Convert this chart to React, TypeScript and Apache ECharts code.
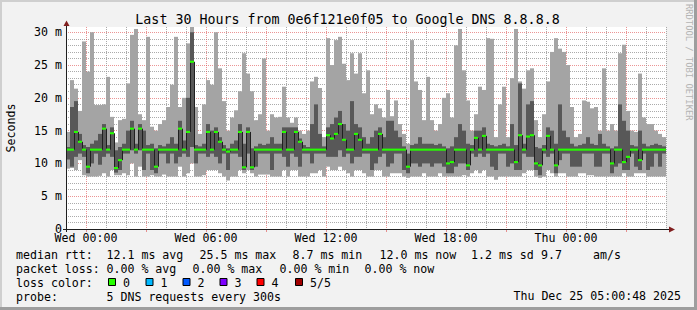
import React, { useEffect, useRef } from 'react';
import * as echarts from 'echarts';

// time axis: hours relative to Wed 00:00, one column = 12 minutes
const START_HOUR = -1;
const END_HOUR = 29;
const STEP_HOURS = 0.2;

// smoke values (ms): lowest ping, 2nd ping, median, 4th ping, highest ping
const pingMin = [
  9.2, 9.3, 9.0, 10.5, 8.2, 8.0, 8.0, 8.0, 8.1, 8.5, 8.0, 9.0, 8.2, 8.2, 8.5, 8.2, 10, 8.0, 9.5, 8,
  8, 8.2, 8, 8, 8.3, 8, 8, 8, 9.5, 8, 8.5, 10, 8, 8, 8.2, 9, 9, 9, 8.5, 8,
  7.4, 8, 8, 9, 8.5, 9, 8.5, 8, 8.3, 8.3, 8.3, 8, 8, 8, 9, 8, 9, 9, 8, 8,
  8, 8.5, 8.5, 9, 8, 9.5, 9, 9, 9.5, 9, 8.5, 8, 9, 9, 8.5, 8, 8, 9, 9, 8,
  8, 8.5, 8.5, 8.5, 8, 7.8, 8, 8, 8, 8.5, 8, 8, 8, 8.5, 8, 8, 8, 8, 8, 8.2,
  8, 8.5, 9, 8.5, 9, 8, 8, 7.5, 8, 8, 8, 8, 8, 8, 8.5, 9, 9, 8, 7.8, 8,
  9, 8.5, 8, 8.5, 8.5, 8, 8, 8, 8.5, 8.5, 8.2, 8.2, 8, 8, 8, 8, 8, 8, 8, 8.5,
  8, 8, 8.5, 8.5, 8.5, 8, 8, 8, 8, 8,
];
const pingLow = [
  10.6, 9.5, 11, 11.5, 11.0, 8.5, 10, 11.5, 9.8, 11, 11.5, 11, 8.6, 9, 11.5, 11.5, 12, 11.5, 12, 9,
  11.5, 9, 8.5, 11.5, 11.5, 10, 11.5, 10, 11, 11.5, 11, 12.5, 10, 11.5, 11.5, 11, 11.5, 11, 10, 11.5,
  9, 11.5, 11.5, 11, 9, 11.5, 9, 9.5, 11.5, 11.5, 11.5, 9, 11.5, 11.5, 11, 9.5, 11.5, 11, 9.5, 11.5,
  11.5, 10, 11.5, 11.5, 11.5, 11, 11, 11, 12, 11, 11.5, 10, 11, 11, 11.5, 11.5, 9, 10, 11, 11.5,
  9.5, 10, 11.5, 11.5, 9, 8.5, 10, 10, 9.5, 10, 10, 9.5, 10, 10, 9.5, 8.5, 8.5, 9.5, 10, 10,
  9, 11.5, 11, 11.5, 11, 11.5, 9.5, 9, 11.5, 11.5, 9.5, 10, 9, 9, 11.5, 11, 11, 9, 8.2, 11.5,
  11, 11.5, 8.5, 10.5, 11.5, 11.5, 9.5, 9.5, 9.5, 11.5, 11.5, 11.5, 9.5, 9.5, 11.5, 11.5, 8.5, 9.5, 10, 9,
  9, 11.5, 9.5, 9, 11.5, 9, 9.5, 11.5, 9.5, 11.5,
];
const pingMedian = [
  12.1, 12.1, 14.8, 13.3, 12.1, 9.5, 12.1, 12.1, 12.1, 15.3, 12.1, 14.6, 9.3, 10.5, 12.1, 12.1, 15.3, 12.1, 15.3, 12.1,
  12.1, 12.1, 9.5, 12.1, 12.1, 12.1, 12.1, 12.1, 15.3, 12.1, 14.8, 25.5, 12.1, 12.1, 12.1, 14.8, 12.1, 14.8, 13.3, 12.1,
  11.8, 12.1, 12.1, 14.8, 9.4, 14.8, 9.4, 12.1, 12.1, 12.1, 12.1, 12.1, 12.1, 12.1, 14.8, 12.1, 12.1, 14.8, 13.3, 12.1,
  12.1, 12.1, 12.1, 12.1, 12.1, 14.3, 13.8, 14.5, 16, 13.6, 12.1, 12.1, 14.5, 13.6, 12.1, 12.1, 12.1, 12.1, 14.5, 12.1,
  12.1, 12.1, 12.1, 12.1, 12.1, 9.5, 12.1, 12.1, 12.1, 12.1, 12.1, 12.1, 12.1, 12.1, 12.1, 10, 10.2, 12.1, 12.1, 12.1,
  9.7, 12.1, 13.9, 12.1, 14.2, 12.1, 12.1, 12.1, 12.1, 12.1, 12.1, 12.1, 10.2, 14.3, 12.1, 14.1, 14.3, 10, 9.7, 12.1,
  14.2, 12.1, 9.7, 12.1, 12.1, 12.1, 12.1, 12.1, 12.1, 12.1, 12.1, 12.1, 12.1, 12.1, 12.1, 12.1, 10, 12.1, 12.1, 10.2,
  11, 12.1, 12.1, 10.5, 12.1, 12.1, 12.1, 12.1, 12.1, 12.1,
];
const pingHigh = [
  12.5, 18.6, 19.5, 14.5, 12.8, 12.5, 13, 13.5, 14.5, 16, 12.8, 15.5, 12.0, 12.5, 13, 15, 16.5, 13, 16, 15,
  12.8, 13, 12.3, 12.8, 12.6, 13, 14, 13, 16.5, 13.5, 20, 30, 12.8, 12.6, 13, 16, 15, 15.5, 14, 12.8,
  12.3, 13, 13.5, 16, 13, 15.5, 12.3, 12.6, 13, 12.8, 13, 14, 13, 13, 15.5, 15.5, 15.5, 15.5, 13.8, 12.8,
  12.5, 16, 19, 14.5, 12.6, 15.5, 16, 17, 18, 16, 15, 19.5, 16, 15.5, 14, 13, 14, 15, 15.5, 14,
  16.5, 16.5, 15, 14, 12.6, 11.5, 12.8, 13, 14, 13, 13, 13, 12.8, 13, 12.6, 12.3, 12.6, 14, 16, 15,
  13, 12.8, 15, 15, 15.5, 13, 12.8, 12.6, 12.8, 13, 12.6, 16, 12.8, 22.2, 13, 19, 19.5, 12.5, 12.3, 12.8,
  15.5, 15, 13, 19, 15, 14, 13, 12.6, 12.8, 13, 14, 13, 12.8, 14.5, 13, 12.6, 12.3, 12.6, 19, 16.5,
  15, 12.8, 12.6, 15, 13, 12.6, 12.8, 13, 12.8, 12.6,
];
const pingMax = [
  14.8, 22.7, 21.4, 18, 28.6, 24, 30, 18.9, 18.9, 19, 23.2, 17.1, 13.2, 16.6, 16.8, 22.2, 29.6, 30.5, 17.5, 16.6,
  29.3, 15.6, 15, 16, 16.6, 18.6, 22, 29.3, 18.6, 20, 28.3, 31, 18.6, 14.5, 19, 22.7, 22, 30, 24.5, 19.5,
  15, 17, 18.1, 21, 26.8, 23.7, 21, 16.6, 17.5, 26, 15, 17.5, 17, 17.1, 21.7, 17, 16.2, 17, 15, 14.5,
  15, 22.5, 23.2, 21.5, 14, 29.1, 25, 28.8, 29.3, 25.2, 22.7, 26.8, 23.7, 26.8, 20.7, 24.2, 17.5, 19, 18.4, 17,
  21.2, 17.2, 19.6, 16, 14.5, 13, 28.8, 22.5, 21.2, 16.6, 23.2, 16.6, 15, 16, 20, 20.7, 17, 28, 30.5, 24.2,
  19.6, 15, 17.5, 21.7, 21.2, 29.1, 29, 14, 19, 21.7, 14, 23, 30.5, 22.5, 21.4, 24.2, 24.5, 16.6, 14, 17.5,
  22.5, 27, 29.1, 27.5, 27, 25, 18.6, 14, 14.5, 19.6, 19.4, 18.4, 18.6, 15, 24.5, 15, 16, 15, 26.8, 28.1,
  18, 15, 14.8, 23.7, 17, 16, 16, 15, 14.5, 14,
];

// axis labels
const xTickHours = [0, 6, 12, 18, 24];
const xTickLabels = ['Wed 00:00', 'Wed 06:00', 'Wed 12:00', 'Wed 18:00', 'Thu 00:00'];
const yMax = 30.8;

const titleText = 'Last 30 Hours from 0e6f121e0f05 to Google DNS 8.8.8.8';
// legend items: [text, left x]
const legendRow1: [string, number][] = [
  ['median rtt:', 16], ['12.1 ms avg', 106.5], ['25.5 ms max', 199.5], ['8.7 ms min', 292.5],
  ['12.0 ms now', 379.5], ['1.2 ms sd', 471], ['9.7', 541], ['am/s', 593],
];
const legendRow2: [string, number][] = [
  ['packet loss:', 16], ['0.00 % avg', 106.5], ['0.00 % max', 192.5], ['0.00 % min', 279.5], ['0.00 % now', 364.5],
];
const legendRow3: [string, number][] = [['loss color:', 16]];
const legendRow4: [string, number][] = [['probe:', 16], ['5 DNS requests every 300s', 106.5]];
const lossLabels = ['0', '1', '2', '3', '4', '5/5'];
const lossColors = ['#26ff00', '#00b8ff', '#0059ff', '#7e00ff', '#ff0000', '#a10000'];
const dateText = 'Thu Dec 25 05:00:48 2025';

const MONO = "'DejaVu Sans Mono', monospace";
const MINOR = 'rgba(143,143,143,0.75)';
const MAJOR = 'rgba(222,79,79,0.6)';

export default function App() {
  const ref = useRef<HTMLDivElement>(null);

  useEffect(() => {
    const chart = echarts.init(ref.current!, null, { renderer: 'svg' });

    const rows = pingMin.map((v, i) => [
      START_HOUR + i * STEP_HOURS,
      v,
      pingLow[i],
      pingMedian[i],
      pingHigh[i],
      pingMax[i],
    ]);

    const hourCats: string[] = [];
    for (let h = START_HOUR; h <= END_HOUR; h++) {
      const k = xTickHours.indexOf(h);
      hourCats.push(k >= 0 ? xTickLabels[k] : '');
    }

    const legendGraphics: any[] = [];
    [legendRow1, legendRow2, legendRow3, legendRow4].forEach((row, r) => {
      row.forEach(([t, x]) => {
        legendGraphics.push({
          type: 'text',
          x,
          y: 255 + r * 14,
          z: 100,
          style: { text: t, font: `11.6px ${MONO}`, fill: '#000', verticalAlign: 'middle' },
        });
      });
    });
    const boxX = [108, 145.5, 182.5, 219.5, 256.5, 295];
    lossColors.forEach((c, i) => {
      legendGraphics.push({
        type: 'rect',
        z: 100,
        shape: { x: boxX[i] + 0.5, y: 278.5, width: 7, height: 7 },
        style: { fill: c, stroke: '#000', lineWidth: 1 },
      });
      legendGraphics.push({
        type: 'text',
        x: boxX[i] + 15,
        y: 283,
        z: 100,
        style: { text: lossLabels[i], font: `11.6px ${MONO}`, fill: '#000', verticalAlign: 'middle' },
      });
    });

    const catAxisBase = {
      type: 'category',
      data: hourCats,
      boundaryGap: false,
      position: 'bottom',
      axisLine: { show: false },
    };

    const option: any = {
      animation: false,
      backgroundColor: '#f2f2f2',
      grid: {
        left: 66,
        right: 31,
        top: 27,
        bottom: 81,
        show: true,
        backgroundColor: '#ffffff',
        borderWidth: 0,
      },
      xAxis: [
        {
          type: 'value',
          min: START_HOUR,
          max: END_HOUR,
          interval: 1,
          axisLine: { show: false },
          axisTick: { show: false },
          axisLabel: { show: false },
          splitLine: { show: false },
        },
        {
          ...catAxisBase,
          axisTick: {
            show: true,
            interval: (i: number) => i % 3 === 1,
            length: 3,
            lineStyle: { color: MAJOR },
          },
          axisLabel: {
            interval: (i: number) => i % 6 === 1,
            fontFamily: MONO,
            fontSize: 11.6,
            color: '#000',
            margin: 3,
          },
          splitLine: {
            show: true,
            interval: (i: number) => i % 3 !== 1,
            lineStyle: { color: MINOR, type: [1, 1], width: 1 },
          },
        },
        {
          ...catAxisBase,
          axisTick: { show: false },
          axisLabel: { show: false },
          splitLine: {
            show: true,
            interval: (i: number) => i % 3 === 1,
            lineStyle: { color: MAJOR, type: [1, 1], width: 1 },
          },
        },
      ],
      yAxis: {
        type: 'value',
        min: 0,
        max: yMax,
        interval: 5,
        axisLine: { show: false },
        axisTick: { show: false },
        axisLabel: {
          formatter: (v: number) => (v === 0 ? '0' : v % 5 === 0 ? `${v} m` : ''),
          showMaxLabel: false,
          fontFamily: MONO,
          fontSize: 11.6,
          color: '#000',
          margin: 4,
        },
        splitLine: {
          show: true,
          showMaxLine: false,
          lineStyle: { color: MAJOR, type: [1, 1], width: 1 },
        },
        minorTick: { show: false, splitNumber: 5 },
        minorSplitLine: {
          show: true,
          lineStyle: { color: MINOR, type: [1, 1], width: 1 },
        },
      },
      series: [
        {
          type: 'custom',
          name: 'smoke',
          xAxisIndex: 0,
          yAxisIndex: 0,
          clip: true,
          data: rows,
          encode: { x: 0, y: [1, 5] },
          renderItem: (params: any, api: any) => {
            const t = api.value(0);
            const x0 = api.coord([t, 0])[0];
            const x1 = api.coord([t + STEP_HOURS, 0])[0];
            const yMinP = api.coord([t, api.value(1)])[1];
            const yLowP = api.coord([t, api.value(2)])[1];
            const yHighP = api.coord([t, api.value(4)])[1];
            const yMaxP = api.coord([t, api.value(5)])[1];
            return {
              type: 'group',
              children: [
                {
                  type: 'rect',
                  shape: { x: x0, y: yMaxP, width: x1 - x0, height: yMinP - yMaxP },
                  style: { fill: '#a4a4a4' },
                },
                {
                  type: 'rect',
                  shape: { x: x0, y: yHighP, width: x1 - x0, height: yLowP - yHighP },
                  style: { fill: '#585858' },
                },
              ],
            };
          },
        },
        {
          type: 'custom',
          name: 'median',
          xAxisIndex: 0,
          yAxisIndex: 0,
          clip: true,
          data: rows,
          encode: { x: 0, y: 3 },
          renderItem: (params: any, api: any) => {
            const i = params.dataIndex;
            const t = api.value(0);
            const med = api.value(3);
            const x0 = api.coord([t, 0])[0];
            const x1 = api.coord([t + STEP_HOURS, 0])[0];
            const yMed = api.coord([t, med])[1];
            const yTop = api.coord([t, med + 0.16])[1];
            const yBot = api.coord([t, med - 0.16])[1];
            const children: any[] = [];
            if (i > 0) {
              const yPrev = api.coord([t, pingMedian[i - 1]])[1];
              children.push({
                type: 'line',
                shape: { x1: x0 + 0.5, y1: yPrev, x2: x0 + 0.5, y2: yMed },
                style: { stroke: '#202020', lineWidth: 1 },
              });
            }
            children.push({
              type: 'rect',
              shape: { x: x0, y: yTop, width: x1 - x0, height: yBot - yTop },
              style: { fill: '#26ff00' },
            });
            return { type: 'group', children };
          },
        },
      ],
      graphic: [
        // frame
        { type: 'rect', z: 100, shape: { x: 0, y: 0, width: 697, height: 2 }, style: { fill: '#cfcfcf' } },
        { type: 'rect', z: 100, shape: { x: 0, y: 0, width: 2, height: 310 }, style: { fill: '#cfcfcf' } },
        { type: 'rect', z: 100, shape: { x: 0, y: 307, width: 697, height: 3 }, style: { fill: '#9e9e9e' } },
        { type: 'rect', z: 100, shape: { x: 694, y: 0, width: 3, height: 310 }, style: { fill: '#9e9e9e' } },
        // axes
        { type: 'line', z: 100, shape: { x1: 66.5, y1: 232, x2: 66.5, y2: 25 }, style: { stroke: '#1f1f1f', lineWidth: 1 } },
        { type: 'line', z: 100, shape: { x1: 63, y1: 229.5, x2: 670, y2: 229.5 }, style: { stroke: '#1f1f1f', lineWidth: 1 } },
        { type: 'polygon', z: 101, shape: { points: [[63.5, 26], [69.5, 26], [66.5, 20.5]] }, style: { fill: '#801f1f' } },
        { type: 'polygon', z: 101, shape: { points: [[669, 226.5], [669, 232.5], [675, 229.5]] }, style: { fill: '#801f1f' } },
        // title
        {
          type: 'text', z: 100, x: 347.5, y: 19.5,
          style: { text: titleText, font: `13.3px ${MONO}`, fill: '#000', align: 'center', verticalAlign: 'middle' },
        },
        // y axis title
        {
          type: 'text', z: 100, x: 11, y: 128, rotation: Math.PI / 2,
          style: { text: 'Seconds', font: `11.6px ${MONO}`, fill: '#000', align: 'center', verticalAlign: 'middle' },
        },
        // watermark
        {
          type: 'text', z: 100, x: 688.5, y: 4, rotation: -Math.PI / 2,
          style: { text: 'RRDTOOL / TOBI OETIKER', font: `8.8px ${MONO}`, fill: '#b4b4b4', align: 'left', verticalAlign: 'middle' },
        },
        {
          type: 'text', z: 100, x: 681, y: 296,
          style: { text: dateText, font: `11.6px ${MONO}`, fill: '#000', align: 'right', verticalAlign: 'middle' },
        },
        ...legendGraphics,
      ],
    };

    chart.setOption(option);
    return () => chart.dispose();
  }, []);

  return (
    <div
      ref={ref}
      style={{ position: 'fixed', left: 0, top: 0, width: 697, height: 310 }}
    />
  );
}
